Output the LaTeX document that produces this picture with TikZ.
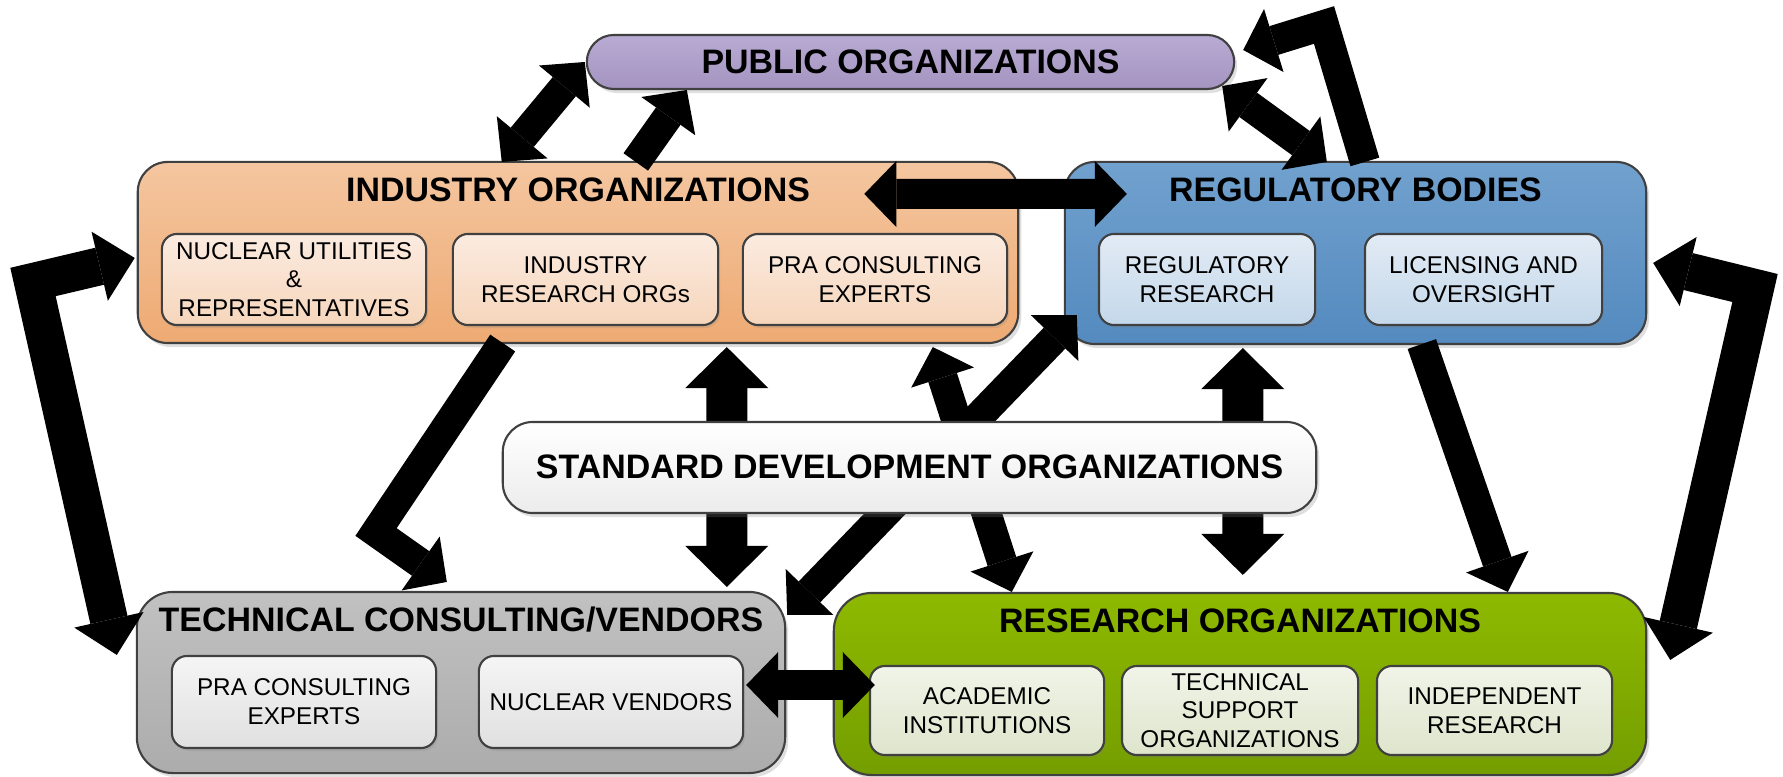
\documentclass[tikz,border=0pt]{standalone}
\usepackage{fontspec}
\setmainfont{Liberation Sans}
\usetikzlibrary{arrows.meta,shadows,calc}
\pgfdeclarelayer{bg}
\pgfdeclarelayer{arr}
\pgfsetlayers{bg,arr,main}
\definecolor{lineC}{RGB}{64,64,64}
\definecolor{pubT}{RGB}{184,171,211}
\definecolor{pubB}{RGB}{164,148,192}
\definecolor{indT}{RGB}{244,198,160}
\definecolor{indB}{RGB}{238,170,115}
\definecolor{indsT}{RGB}{251,235,224}
\definecolor{indsB}{RGB}{246,214,188}
\definecolor{regT}{RGB}{113,161,206}
\definecolor{regB}{RGB}{84,138,191}
\definecolor{regsT}{RGB}{226,235,245}
\definecolor{regsB}{RGB}{196,216,234}
\definecolor{sdoT}{RGB}{255,255,255}
\definecolor{sdoB}{RGB}{236,236,236}
\definecolor{tecT}{RGB}{193,193,193}
\definecolor{tecB}{RGB}{172,172,172}
\definecolor{tecsT}{RGB}{245,245,245}
\definecolor{tecsB}{RGB}{224,224,224}
\definecolor{resT}{RGB}{142,185,0}
\definecolor{resB}{RGB}{116,158,0}
\definecolor{ressT}{RGB}{241,244,232}
\definecolor{ressB}{RGB}{222,229,204}
\newcommand{\titlef}{\fontsize{9.65}{11.5}\selectfont\bfseries}
\newcommand{\subf}{\fontsize{6.9}{8.2}\selectfont}
\tikzset{
  box/.style={draw=lineC, line width=0.6pt, inner sep=0pt, outer sep=0pt},
  bigbox/.style={box, drop shadow={shadow xshift=0.03cm, shadow yshift=-0.04cm, opacity=0.25}},
  subbox/.style={box, rounded corners=0.15cm, align=center, font=\subf,
    drop shadow={shadow xshift=0.02cm, shadow yshift=-0.03cm, opacity=0.2}},
  ttl/.style={font=\titlef, inner sep=0pt},
  tipA/.tip={Triangle[width=0.66cm,length=0.32cm,line width=0pt]},
  tipB/.tip={Triangle[width=0.83cm,length=0.41cm,line width=0pt]},
  tipC/.tip={Triangle[width=0.71cm,length=0.36cm,line width=0pt]},
  sarr/.style={line width=0.30cm, line join=miter, -tipA},
  darr/.style={line width=0.30cm, line join=miter, tipA-tipA},
  varr/.style={line width=0.41cm, -tipB},
  barr/.style={line width=0.38cm, line join=miter, tipC-tipC},
}
\begin{document}
\begin{tikzpicture}[x=0.01cm,y=-0.01cm]
\useasboundingbox (0,0) rectangle (1783,777);

% standard development organizations (front layer)
\node[bigbox, rounded corners=0.3cm, top color=sdoT, bottom color=sdoB,
  minimum width=8.13cm, minimum height=0.91cm] (sdo) at (909.5,467.5) {};
\node[ttl] (sdoTitle) at (909.5,467) {STANDARD DEVELOPMENT ORGANIZATIONS};

\begin{pgfonlayer}{bg}
% public
\node[bigbox, rounded corners=0.27cm, top color=pubT, bottom color=pubB,
  minimum width=6.47cm, minimum height=0.54cm] (pub) at (910.5,62) {};
\node[ttl] (pubTitle) at (910.5,62) {PUBLIC ORGANIZATIONS};
% industry
\node[bigbox, rounded corners=0.3cm, top color=indT, bottom color=indB,
  minimum width=8.80cm, minimum height=1.81cm] (ind) at (578,252.5) {};
\node[ttl] (indTitle) at (578,190) {INDUSTRY ORGANIZATIONS};
\node[subbox, top color=indsT, bottom color=indsB, minimum width=2.64cm, minimum height=0.91cm]
  (nuc) at (294,279.5) {NUCLEAR UTILITIES\\\&\\REPRESENTATIVES};
\node[subbox, top color=indsT, bottom color=indsB, minimum width=2.65cm, minimum height=0.91cm]
  (iro) at (585.5,279.5) {INDUSTRY\\RESEARCH ORGs};
\node[subbox, top color=indsT, bottom color=indsB, minimum width=2.64cm, minimum height=0.91cm]
  (pra1) at (875,279.5) {PRA CONSULTING\\EXPERTS};
% regulatory
\node[bigbox, rounded corners=0.3cm, top color=regT, bottom color=regB,
  minimum width=5.81cm, minimum height=1.82cm] (reg) at (1355.5,253) {};
\node[ttl] (regTitle) at (1355.5,190) {REGULATORY BODIES};
\node[subbox, top color=regsT, bottom color=regsB, minimum width=2.16cm, minimum height=0.91cm]
  (rr) at (1207,279.5) {REGULATORY\\RESEARCH};
\node[subbox, top color=regsT, bottom color=regsB, minimum width=2.37cm, minimum height=0.91cm]
  (lo) at (1483.5,279.5) {LICENSING AND\\OVERSIGHT};
% technical
\node[bigbox, rounded corners=0.36cm, top color=tecT, bottom color=tecB,
  minimum width=6.48cm, minimum height=1.81cm] (tec) at (461,682.5) {};
\node[ttl] (tecTitle) at (461,620) {TECHNICAL CONSULTING/VENDORS};
\node[subbox, top color=tecsT, bottom color=tecsB, minimum width=2.64cm, minimum height=0.92cm]
  (pra2) at (304,702) {PRA CONSULTING\\EXPERTS};
\node[subbox, top color=tecsT, bottom color=tecsB, minimum width=2.64cm, minimum height=0.92cm]
  (nv) at (611,702) {NUCLEAR VENDORS};
% research
\node[bigbox, rounded corners=0.38cm, top color=resT, bottom color=resB,
  minimum width=8.12cm, minimum height=1.82cm] (res) at (1240,684) {};
\node[ttl] (resTitle) at (1240,621) {RESEARCH ORGANIZATIONS};
\node[subbox, top color=ressT, bottom color=ressB, minimum width=2.34cm, minimum height=0.89cm]
  (ai) at (987,710.5) {ACADEMIC\\INSTITUTIONS};
\node[subbox, top color=ressT, bottom color=ressB, minimum width=2.36cm, minimum height=0.89cm]
  (tso) at (1240,710.5) {TECHNICAL\\SUPPORT\\ORGANIZATIONS};
\node[subbox, top color=ressT, bottom color=ressB, minimum width=2.35cm, minimum height=0.89cm]
  (ir) at (1494.5,710.5) {INDEPENDENT\\RESEARCH};
\end{pgfonlayer}

\begin{pgfonlayer}{arr}
\coordinate (c5) at (1324,25);
\coordinate (c6) at (376,532);
\coordinate (c14) at (33,282);
\coordinate (c15) at (1755,288);
% industry <-> public
\draw[darr] ($(ind.north west)+(364,0)$) -- ($(pub.west)+(-2,0)$);
\draw[sarr] ($(ind.north west)+(498,0)$) -- ($(pub.south west)+(100,1)$);
% industry <-> regulatory
\draw[darr] ($(ind.north east)+(-154,32)$) -- ($(reg.north west)+(62,32)$);
% regulatory <-> public
\draw[darr] ($(pub.south east)+(-12,-3)$) -- ($(reg.north west)+(262,0)$);
\draw[sarr] ($(reg.north west)+(300,0)$) -- (c5) -- ($(pub.east)+(9,-12)$);
% industry -> technical
\draw[sarr] ($(ind.south west)+(365,0)$) -- (c6) -- ($(tec.north west)+(310,-10)$);
% SDO vertical arrows
\draw[varr] ($(sdo.north west)+(224,0)$) -- ($(ind.south west)+(589,4)$);
\draw[varr] ($(sdo.south west)+(224,0)$) -- ($(tec.north west)+(590,-5)$);
\draw[varr] ($(sdo.north west)+(740,0)$) -- ($(reg.south west)+(178,4)$);
\draw[varr] ($(sdo.south west)+(740,0)$) -- ($(res.north west)+(409,-18)$);
% diagonals behind SDO
\draw[darr] ($(ind.south west)+(795,4)$) -- ($(res.north west)+(178,-1)$);
\draw[darr] ($(reg.south west)+(12,-29)$) -- ($(tec.north east)+(2,23)$);
% technical <-> research
\draw[darr] ($(tec.east)+(-39,2.5)$) -- ($(res.west)+(41,1)$);
% left and right bent arrows
\draw[barr] ($(tec.north west)+(-20,63)$) -- (c14) -- ($(ind.north west)+(-3,96)$);
\draw[barr] ($(res.north east)+(24,67)$) -- (c15) -- ($(reg.north east)+(7,101)$);
% regulatory -> research
\draw[sarr] ($(reg.south west)+(357,0)$) -- ($(res.north west)+(674,-1)$);
\end{pgfonlayer}
\end{tikzpicture}
\end{document}
